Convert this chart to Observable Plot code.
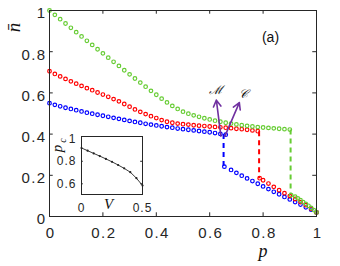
<!DOCTYPE html>
<html>
<head>
<meta charset="utf-8">
<script src="https://cdn.jsdelivr.net/npm/d3@7"></script>
<script src="https://cdn.jsdelivr.net/npm/@observablehq/plot@0.6"></script>
<style>
html,body{margin:0;padding:0;background:#fff;}
#wrap{position:relative;width:340px;height:266px;overflow:hidden;}
#wrap svg{position:absolute;}
#main g[aria-label="x-axis tick label"] text,
#main g[aria-label="y-axis tick label"] text{letter-spacing:1.4px;}
#inset g[aria-label="x-axis tick label"] text,
#inset g[aria-label="y-axis tick label"] text{letter-spacing:1px;}
</style>
</head>
<body>
<div id="wrap"></div>
<script>
// ---- data ----
const pGrid = [0,0.02,0.04,0.06,0.08,0.10,0.12,0.14,0.16,0.18,0.20,0.22,0.24,0.26,0.28,0.30,0.32,0.34,0.36,0.38,0.40,0.42,0.44,0.46,0.48,0.50,0.52,0.54,0.56,0.58,0.60,0.62,0.64,0.66,0.68,0.70,0.72,0.74,0.76,0.78,0.80,0.82,0.84,0.86,0.88,0.90];
const greenUpper = [1.000,0.979,0.958,0.937,0.916,0.895,0.874,0.853,0.833,0.812,0.792,0.771,0.751,0.731,0.710,0.690,0.670,0.650,0.630,0.610,0.591,0.572,0.554,0.537,0.522,0.509,0.499,0.491,0.484,0.477,0.471,0.465,0.460,0.455,0.451,0.447,0.443,0.440,0.437,0.434,0.432,0.430,0.428,0.426,0.424,0.422];
const redUpper = [0.705,0.692,0.680,0.668,0.656,0.645,0.634,0.623,0.613,0.602,0.592,0.581,0.570,0.559,0.546,0.533,0.520,0.508,0.497,0.487,0.478,0.468,0.460,0.455,0.451,0.448,0.446,0.443,0.441,0.439,0.437,0.435,0.433,0.431,0.429,0.426,0.424,0.421,0.418,0.414];
const blueUpper = [0.550,0.542,0.535,0.528,0.522,0.516,0.510,0.504,0.499,0.494,0.489,0.484,0.479,0.474,0.469,0.464,0.459,0.455,0.450,0.446,0.442,0.438,0.434,0.431,0.427,0.424,0.421,0.418,0.415,0.412,0.409,0.405,0.401,0.397];
const pLowBlue = [0.655,0.68,0.70,0.72,0.74,0.76,0.78,0.80,0.82,0.84,0.86,0.88,0.90,0.92,0.94,0.96,0.98,1.00];
const blueLower = [0.242,0.226,0.212,0.198,0.185,0.172,0.159,0.146,0.133,0.120,0.108,0.095,0.083,0.070,0.058,0.045,0.033,0.020];
const pLowRed = [0.787,0.80,0.82,0.84,0.86,0.88,0.90,0.92,0.94,0.96,0.98,1.00];
const redLower = [0.186,0.176,0.160,0.144,0.128,0.113,0.099,0.085,0.070,0.055,0.038,0.020];
const pLowGreen = [0.905,0.92,0.93,0.94,0.95,0.96,0.97,0.98,0.99,1.00];
const greenLower = [0.104,0.096,0.088,0.079,0.070,0.061,0.052,0.042,0.031,0.020];
const dashP = [0.652,0.785,0.903];
const dashTop = [0.400,0.414,0.422];
const dashBottom = [0.242,0.186,0.104];
const seriesColors = ["#0000ff","#ff0000","#66cc33"];
const xTicks = [0,0.2,0.4,0.6,0.8,1];
const xTickLabels = ["0","0.2","0.4","0.6","0.8","1"];
const yTicks = [0,0.2,0.4,0.6,0.8,1];
const yTickLabels = ["0","0.2","0.4","0.6","0.8","1"];
const arrowX1 = [0.642,0.657];
const arrowY1 = [0.390,0.390];
const arrowX2 = [0.625,0.711];
const arrowY2 = [0.565,0.553];
const arrowLabels = ["\u2133","\uD835\uDC9E"];
const arrowLabelX = [0.623,0.728];
const arrowLabelY = [0.612,0.596];
// inset
const insetV = [0,0.05,0.10,0.15,0.20,0.25,0.30,0.35,0.40,0.45,0.50];
const insetPc = [0.918,0.894,0.870,0.846,0.821,0.795,0.767,0.737,0.703,0.650,0.585];
const insetXTicks = [0,0.5];
const insetXTickLabels = ["0","0.5"];
const insetYTicks = [0.6,0.8,1];
const insetYTickLabels = ["0.6","0.8","1"];

// ---- build ----
const ax = "#262626";
const serif = "'Liberation Serif', 'DejaVu Serif', serif";
const upper = [
  {c:0, rows: blueUpper.map((n,i)=>({p:pGrid[i], n}))},
  {c:1, rows: redUpper.map((n,i)=>({p:pGrid[i], n}))},
  {c:2, rows: greenUpper.map((n,i)=>({p:pGrid[i], n}))}
];
const lower = [
  {c:0, rows: blueLower.map((n,i)=>({p:pLowBlue[i], n}))},
  {c:1, rows: redLower.map((n,i)=>({p:pLowRed[i], n}))},
  {c:2, rows: greenLower.map((n,i)=>({p:pLowGreen[i], n}))}
];
const dashes = dashP.map((p,i)=>({p, top:dashTop[i], bottom:dashBottom[i], c:i}));
const arrows = arrowX1.map((x,i)=>({x1:x, y1:arrowY1[i], x2:arrowX2[i], y2:arrowY2[i]}));
const labs = arrowLabels.map((t,i)=>({t, x:arrowLabelX[i], y:arrowLabelY[i]}));

const dotMarks = [];
for (const s of [...upper, ...lower]) {
  dotMarks.push(Plot.dot(s.rows, {x:"p", y:"n", r:1.8, stroke:seriesColors[s.c], strokeWidth:1.2, fill:"none"}));
}

const main = Plot.plot({
  width:340, height:266,
  marginTop:10, marginRight:24, marginBottom:50, marginLeft:49,
  x:{domain:[0,1]}, y:{domain:[0,1]},
  style:{fontFamily:"'Liberation Sans', Arial, sans-serif", fontSize:"15px", color:ax, background:"transparent", overflow:"visible"},
  marks:[
    Plot.link(dashes, {x1:"p", x2:"p", y1:"top", y2:"bottom", stroke:d=>seriesColors[d.c], strokeWidth:2, strokeDasharray:"5,4"}),
    ...dotMarks,
    Plot.arrow(arrows, {x1:"x1", y1:"y1", x2:"x2", y2:"y2", stroke:"#7030a0", strokeWidth:1.6, headLength:7}),
    Plot.text(labs, {x:"x", y:"y", text:"t", fontSize:12, fontStyle:"italic", fontFamily:"'DejaVu Serif', 'Liberation Serif', serif", fill:"#111"}),
    Plot.frame({stroke:ax, strokeWidth:1}),
    Plot.ruleX(xTicks.slice(1,-1), {y1:0, y2:0.018, stroke:ax}),
    Plot.ruleX(xTicks.slice(1,-1), {y1:1, y2:0.982, stroke:ax}),
    Plot.ruleY(yTicks.slice(1,-1), {x1:0, x2:0.014, stroke:ax}),
    Plot.ruleY(yTicks.slice(1,-1), {x1:1, x2:0.986, stroke:ax}),
    Plot.axisX(xTicks, {tickSize:0, tickPadding:11, tickFormat:(d,i)=>xTickLabels[i], label:null, fontSize:15, dx:1}),
    Plot.axisY(yTicks, {tickSize:0, tickPadding:3, tickFormat:(d,i)=>yTickLabels[i], label:null, fontSize:15, dy:3}),
    Plot.text(["n\u0304"], {frameAnchor:"top-left", lineAnchor:"middle", textAnchor:"middle", dx:-36, dy:17, rotate:-90, fontSize:19, fontStyle:"italic", fontFamily:serif, fill:"#111"}),
    Plot.text(["p"], {frameAnchor:"bottom", lineAnchor:"middle", textAnchor:"middle", dx:80, dy:35, fontSize:18, fontStyle:"italic", fontFamily:serif, fill:"#111"}),
    Plot.text(["(a)"], {frameAnchor:"top-right", lineAnchor:"middle", textAnchor:"middle", dx:-46, dy:27, fontSize:14, fill:"#111"})
  ]
});
main.id = "main";
main.style.left = "0px"; main.style.top = "0px";

const insetRows = insetV.map((v,i)=>({v, pc:insetPc[i]}));
const inset = Plot.plot({
  width:130, height:100,
  marginTop:8, marginRight:18, marginBottom:34, marginLeft:51,
  x:{domain:[0,0.5]}, y:{domain:[0.505,1.02]},
  style:{fontFamily:"'Liberation Sans', Arial, sans-serif", fontSize:"12px", color:ax, background:"transparent", overflow:"visible"},
  marks:[
    Plot.frame({fill:"white", stroke:ax, strokeWidth:1}),
    Plot.line(insetRows, {x:"v", y:"pc", stroke:"#222", strokeWidth:0.9}),
    Plot.dot(insetRows, {x:"v", y:"pc", r:1.1, fill:"#222"}),
    Plot.ruleY(insetYTicks.slice(0,2), {x1:0, x2:0.015, stroke:ax}),
    Plot.ruleY(insetYTicks.slice(0,2), {x1:0.5, x2:0.485, stroke:ax}),
    Plot.axisX(insetXTicks, {tickSize:0, tickPadding:9, tickFormat:(d,i)=>insetXTickLabels[i], label:null, fontSize:12}),
    Plot.axisY(insetYTicks, {tickSize:0, tickPadding:5, tickFormat:(d,i)=>insetYTickLabels[i], label:null, fontSize:12}),
    Plot.text(["V"], {frameAnchor:"bottom", lineAnchor:"middle", textAnchor:"middle", dx:-3.5, dy:10, fontSize:15, fontStyle:"italic", fontFamily:serif, fill:"#111"}),
    Plot.text(["p"], {frameAnchor:"top-left", lineAnchor:"middle", textAnchor:"middle", dx:-24, dy:12, rotate:-90, fontSize:15, fontStyle:"italic", fontFamily:serif, fill:"#111"}),
    Plot.text(["c"], {frameAnchor:"top-left", lineAnchor:"middle", textAnchor:"middle", dx:-19, dy:4, rotate:-90, fontSize:10, fontStyle:"italic", fontFamily:serif, fill:"#111"})
  ]
});
inset.id = "inset";
inset.style.left = "30px"; inset.style.top = "128px";

const wrap = document.getElementById("wrap");
wrap.appendChild(main);
wrap.appendChild(inset);
</script>
</body>
</html>
